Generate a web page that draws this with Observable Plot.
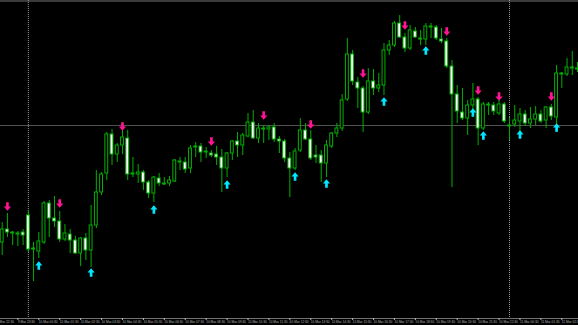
<!DOCTYPE html>
<html>
<head>
<meta charset="utf-8">
<script src="https://cdn.jsdelivr.net/npm/d3@7"></script>
<script src="https://cdn.jsdelivr.net/npm/@observablehq/plot@0.6"></script>
<style>
html, body { margin: 0; padding: 0; background: #000; overflow: hidden; }
#chart svg { display: block; }
</style>
</head>
<body>
<div id="chart"></div>
<script>
// M15 candles, prices
const open = [1.1158,1.1171,1.1168,1.1167,1.1168,1.1185,1.1152,1.1149,1.1158,1.1197,
1.1182,1.1179,1.1161,1.1166,1.1160,1.1147,1.1162,1.1150,1.1175,1.1208,
1.1227,1.1266,1.1246,1.1255,1.1262,1.1227,1.1226,1.1228,1.1218,1.1207,
1.1222,1.1217,1.1217,1.1219,1.1239,1.1238,1.1232,1.1253,1.1254,1.1249,
1.1247,1.1246,1.1243,1.1232,1.1247,1.1259,1.1255,1.1264,1.1278,1.1262,
1.1272,1.1271,1.1273,1.1261,1.1259,1.1242,1.1232,1.1250,1.1270,1.1261,
1.1245,1.1245,1.1237,1.1254,1.1267,1.1272,1.1301,1.1346,1.1318,1.1312,
1.1288,1.1319,1.1312,1.1315,1.1350,1.1355,1.1377,1.1363,1.1352,1.1369,
1.1362,1.1361,1.1374,1.1373,1.1361,1.1359,1.1334,1.1306,1.1288,1.1282,
1.1295,1.1301,1.1272,1.1296,1.1295,1.1287,1.1296,1.1275,1.1276,1.1279,
1.1286,1.1277,1.1281,1.1286,1.1280,1.1293,1.1283,1.1327,1.1326,1.1333,1.1332];

const high = [1.1178,1.1187,1.1169,1.1169,1.1171,1.1190,1.1158,1.1168,1.1199,1.1200,
1.1204,1.1189,1.1176,1.1171,1.1164,1.1163,1.1167,1.1195,1.1230,1.1228,
1.1268,1.1271,1.1257,1.1270,1.1270,1.1243,1.1236,1.1230,1.1220,1.1224,
1.1227,1.1223,1.1224,1.1241,1.1243,1.1243,1.1255,1.1258,1.1257,1.1253,
1.1250,1.1254,1.1251,1.1248,1.1260,1.1268,1.1267,1.1287,1.1290,1.1277,
1.1275,1.1275,1.1277,1.1264,1.1261,1.1248,1.1252,1.1282,1.1277,1.1270,
1.1255,1.1250,1.1260,1.1268,1.1277,1.1306,1.1362,1.1350,1.1323,1.1314,
1.1332,1.1331,1.1327,1.1357,1.1360,1.1379,1.1385,1.1367,1.1375,1.1373,
1.1370,1.1377,1.1377,1.1375,1.1372,1.1362,1.1340,1.1315,1.1312,1.1300,
1.1317,1.1303,1.1298,1.1298,1.1298,1.1303,1.1298,1.1283,1.1295,1.1292,
1.1290,1.1293,1.1294,1.1290,1.1294,1.1296,1.1335,1.1328,1.1342,1.1349,1.1338];

const low = [1.1145,1.1163,1.1155,1.1154,1.1155,1.1148,1.1119,1.1142,1.1156,1.1163,
1.1173,1.1158,1.1159,1.1147,1.1146,1.1134,1.1140,1.1133,1.1172,1.1205,
1.1220,1.1235,1.1238,1.1246,1.1220,1.1223,1.1217,1.1210,1.1202,1.1198,
1.1214,1.1215,1.1214,1.1218,1.1230,1.1227,1.1227,1.1243,1.1238,1.1242,
1.1243,1.1235,1.1208,1.1223,1.1240,1.1243,1.1245,1.1263,1.1261,1.1257,
1.1257,1.1260,1.1258,1.1247,1.1238,1.1203,1.1230,1.1248,1.1260,1.1240,
1.1237,1.1218,1.1223,1.1252,1.1263,1.1269,1.1299,1.1315,1.1292,1.1268,
1.1286,1.1305,1.1308,1.1305,1.1345,1.1353,1.1362,1.1348,1.1350,1.1362,
1.1355,1.1355,1.1362,1.1360,1.1357,1.1332,1.1213,1.1277,1.1280,1.1265,
1.1290,1.1255,1.1270,1.1285,1.1285,1.1285,1.1277,1.1260,1.1273,1.1267,
1.1274,1.1272,1.1275,1.1277,1.1272,1.1280,1.1268,1.1312,1.1324,1.1325,1.1328];

const close = [1.1171,1.1168,1.1167,1.1166,1.1165,1.1151,1.1151,1.1159,1.1197,1.1182,
1.1179,1.1161,1.1167,1.1160,1.1147,1.1162,1.1150,1.1175,1.1208,1.1226,
1.1266,1.1246,1.1255,1.1263,1.1226,1.1226,1.1228,1.1218,1.1207,1.1223,
1.1217,1.1216,1.1220,1.1240,1.1238,1.1231,1.1252,1.1254,1.1248,1.1248,
1.1245,1.1243,1.1232,1.1247,1.1259,1.1255,1.1265,1.1278,1.1262,1.1272,
1.1271,1.1273,1.1261,1.1259,1.1242,1.1232,1.1249,1.1270,1.1261,1.1242,
1.1243,1.1237,1.1255,1.1267,1.1272,1.1300,1.1346,1.1319,1.1312,1.1288,
1.1319,1.1312,1.1315,1.1350,1.1355,1.1377,1.1363,1.1352,1.1370,1.1363,
1.1361,1.1374,1.1373,1.1362,1.1359,1.1334,1.1306,1.1289,1.1282,1.1295,
1.1301,1.1272,1.1296,1.1295,1.1289,1.1296,1.1279,1.1274,1.1280,1.1286,
1.1277,1.1281,1.1286,1.1279,1.1293,1.1284,1.1327,1.1326,1.1333,1.1332,1.1331];

// signal arrows: candle index and price level
const sellIdx   = [1, 11, 23, 40, 50, 59, 69, 77, 85, 91, 95, 105];
const sellLevel = [1.1194,1.1197,1.1274,1.1259,1.1285,1.1276,1.1327,1.1375,1.1369,1.1310,1.1304,1.1304];
const buyIdx    = [7, 17, 29, 43, 56, 62, 73, 81, 90, 92, 99, 106];
const buyLevel  = [1.1135,1.1128,1.1191,1.1216,1.1224,1.1217,1.1299,1.1350,1.1288,1.1265,1.1266,1.1273];

// time axis
const tickIdx = [-1,3,7,11,15,19,23,27,31,35,39,43,47,51,55,59,63,67,71,75,79,83,87,91,95,99,103,107];
const tickLabels = ["9 Mar 22:30","9 Mar 23:30","10 Mar 00:30","10 Mar 01:30","10 Mar 02:30","10 Mar 03:30",
"10 Mar 04:30","10 Mar 05:30","10 Mar 06:30","10 Mar 07:30","10 Mar 08:30","10 Mar 09:30","10 Mar 10:30",
"10 Mar 11:30","10 Mar 12:30","10 Mar 13:30","10 Mar 14:30","10 Mar 15:30","10 Mar 16:30","10 Mar 17:30",
"10 Mar 18:30","10 Mar 19:30","10 Mar 20:30","10 Mar 21:30","10 Mar 22:30","11 Mar 00:30","11 Mar 01:30","11 Mar 02:30"];
const separatorIdx = [5, 97];
const levelLine = [1.1275];
const priceRange = [1.1082, 1.1400];

const candles = open.map((o, i) => ({i, open: o, high: high[i], low: low[i], close: close[i]}));
const sells = sellIdx.map((i, k) => ({i, level: sellLevel[k]}));
const buys = buyIdx.map((i, k) => ({i, level: buyLevel[k]}));
const labelOf = new Map(tickIdx.map((t, k) => [t, tickLabels[k]]));
const slots = d3.range(-1, open.length + 1);

const green = "#00b000";
const upArrow = {draw(ctx, size) {
  const r = Math.sqrt(size / Math.PI), w = r * 0.85, s = r * 0.32;
  ctx.moveTo(0, -r); ctx.lineTo(w, 0); ctx.lineTo(s, 0); ctx.lineTo(s, r);
  ctx.lineTo(-s, r); ctx.lineTo(-s, 0); ctx.lineTo(-w, 0); ctx.closePath();
}};
const downArrow = {draw(ctx, size) {
  const r = Math.sqrt(size / Math.PI), w = r * 0.85, s = r * 0.32;
  ctx.moveTo(0, r); ctx.lineTo(w, 0); ctx.lineTo(s, 0); ctx.lineTo(s, -r);
  ctx.lineTo(-s, -r); ctx.lineTo(-s, 0); ctx.lineTo(-w, 0); ctx.closePath();
}};

const chart = Plot.plot({
  width: 578, height: 325,
  marginTop: 0, marginRight: 0, marginBottom: 7, marginLeft: 0,
  style: {background: "#000", color: "#c0c0c0", fontFamily: "'Liberation Sans Narrow', 'Liberation Sans', sans-serif"},
  x: {type: "band", domain: slots, range: [-6.15, 584.85], paddingInner: 0.45, paddingOuter: 0.225, round: false, axis: null},
  y: {domain: priceRange, axis: null},
  marks: [
    Plot.ruleY([priceRange[1]], {stroke: "#3a3a3a", strokeWidth: 3}),
    Plot.ruleY(levelLine, {stroke: "#505050"}),
    Plot.ruleX(separatorIdx, {stroke: "#999", strokeDasharray: "1,1"}),
    Plot.ruleX(candles, {x: "i", y1: "low", y2: "high", stroke: green}),
    Plot.barY(candles, {filter: d => d.close >= d.open, x: "i", y1: "open", y2: "close", fill: "#000", stroke: green}),
    Plot.barY(candles, {filter: d => d.close < d.open, x: "i", y1: "open", y2: "close", fill: "#fff", stroke: green}),
    Plot.dot(sells, {x: "i", y: "level", symbol: downArrow, r: 4.2, fill: "#ff1493"}),
    Plot.dot(buys, {x: "i", y: "level", symbol: upArrow, r: 4.2, fill: "#00e8ff"}),
    Plot.ruleY([priceRange[0]], {stroke: "#707070"}),
    Plot.axisX({ticks: tickIdx, tickFormat: d => labelOf.get(d), tickSize: 2, tickPadding: 0.5,
      textAnchor: "start", fontSize: 3.2, color: "#b8b8b8"})
  ]
});
document.getElementById("chart").append(chart);
</script>
</body>
</html>
